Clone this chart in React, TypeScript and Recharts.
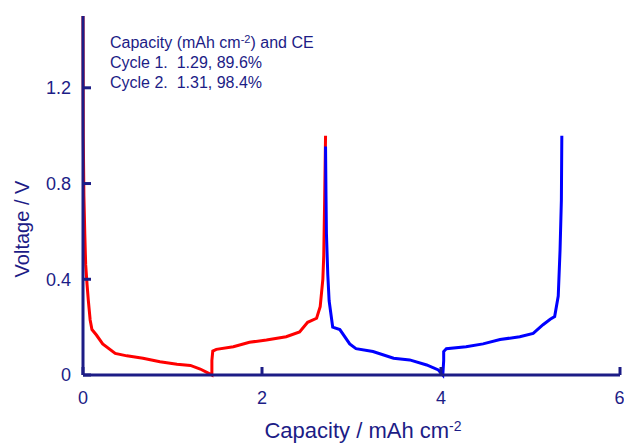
import React from "react";
import { LineChart, Line, XAxis, YAxis } from "recharts";

// cycle 1 (red) - discharge then charge
const cycle1X = [
  0, 0.003, 0.01, 0.02, 0.03, 0.045, 0.06, 0.08, 0.1, 0.15, 0.22, 0.36, 0.49, 0.67, 0.86, 1.05, 1.2,
  1.31, 1.4, 1.44, 1.44, 1.45, 1.49, 1.68, 1.86, 2.05, 2.27, 2.42, 2.51, 2.61, 2.65, 2.68, 2.69,
  2.7, 2.71,
];
const cycle1V = [
  1.5, 1.0, 0.75, 0.59, 0.46, 0.38, 0.31, 0.23, 0.19, 0.167, 0.13, 0.09, 0.08, 0.07, 0.055, 0.045,
  0.04, 0.025, 0.008, 0, 0.06, 0.1, 0.107, 0.118, 0.137, 0.146, 0.16, 0.18, 0.22, 0.237, 0.285, 0.4,
  0.5, 0.73, 1.0,
];

// cycle 2 (blue)
const cycle2X = [
  2.71, 2.715, 2.72, 2.735, 2.75, 2.79, 2.87, 2.98, 3.05, 3.24, 3.47, 3.65, 3.84, 3.97, 4.02, 4.03,
  4.03, 4.06, 4.28, 4.47, 4.66, 4.88, 5.03, 5.14, 5.22, 5.27, 5.31, 5.33, 5.345, 5.35,
];
const cycle2V = [
  0.955, 0.75, 0.59, 0.42, 0.31, 0.2, 0.19, 0.13, 0.11, 0.098, 0.07, 0.063, 0.042, 0.021, 0, 0.06,
  0.098, 0.11, 0.118, 0.13, 0.148, 0.16, 0.174, 0.21, 0.233, 0.244, 0.33, 0.52, 0.73, 1.0,
];

const xTicks = [0, 2, 4, 6];
const yTicks = [0, 0.4, 0.8, 1.2];

const NAVY = "#1c1c86";
const FONT = "'Liberation Sans', Arial, sans-serif";

const toRows = (xs: number[], vs: number[]) => xs.map((x, i) => ({ x, v: vs[i] }));

export default function App() {
  const c1 = toRows(cycle1X, cycle1V);
  const c2 = toRows(cycle2X, cycle2V);

  return (
    <div style={{ position: "absolute", left: 0, top: 0, width: 624, height: 445, background: "#fff", fontFamily: FONT }}>
      <LineChart width={624} height={445} margin={{ top: 16, right: 4, left: 0, bottom: 0 }}>
        <XAxis
          xAxisId="t"
          orientation="top"
          type="number"
          dataKey="x"
          domain={[0, 6]}
          height={0}
          tick={false}
          tickLine={false}
          axisLine={{ stroke: NAVY, strokeWidth: 3 }}
        />
        <YAxis
          yAxisId="r"
          orientation="right"
          domain={[0, 1.5]}
          width={0}
          tick={false}
          tickLine={false}
          axisLine={{ stroke: NAVY, strokeWidth: 3 }}
        />
        <XAxis
          type="number"
          dataKey="x"
          domain={[0, 6]}
          ticks={xTicks}
          height={70}
          tickSize={-8}
          tickMargin={24}
          axisLine={{ stroke: NAVY, strokeWidth: 3 }}
          tickLine={{ stroke: NAVY, strokeWidth: 3 }}
          tick={{ fill: NAVY, fontSize: 18, fontFamily: FONT }}
        />
        <YAxis
          type="number"
          domain={[0, 1.5]}
          ticks={yTicks}
          width={83}
          tickSize={-8}
          tickMargin={20}
          axisLine={{ stroke: NAVY, strokeWidth: 3 }}
          tickLine={{ stroke: NAVY, strokeWidth: 3 }}
          tick={{ fill: NAVY, fontSize: 18, fontFamily: FONT }}
        />
        <Line data={c1} dataKey="v" type="linear" stroke="#ff0000" strokeWidth={3} dot={false} isAnimationActive={false} />
        <Line data={c2} dataKey="v" type="linear" stroke="#0000ff" strokeWidth={3} dot={false} isAnimationActive={false} />
      </LineChart>

      <div style={{ position: "absolute", left: 110, top: 33, color: NAVY, fontSize: 16, lineHeight: "20px", whiteSpace: "nowrap" }}>
        <div>
          Capacity (mAh cm<sup style={{ fontSize: 11, verticalAlign: "5px", lineHeight: 0 }}>-2</sup>) and CE
        </div>
        <div>Cycle 1.&nbsp; 1.29, 89.6%</div>
        <div>Cycle 2.&nbsp; 1.31, 98.4%</div>
      </div>

      <div
        style={{
          position: "absolute",
          left: 22,
          top: 229,
          transform: "translate(-50%, -50%) rotate(-90deg)",
          color: NAVY,
          fontSize: 20,
          whiteSpace: "nowrap",
        }}
      >
        Voltage / V
      </div>

      <div
        style={{
          position: "absolute",
          left: 363,
          top: 431,
          transform: "translate(-50%, -50%)",
          color: NAVY,
          fontSize: 22,
          whiteSpace: "nowrap",
          lineHeight: "24px",
        }}
      >
        Capacity / mAh cm<sup style={{ fontSize: 14, verticalAlign: "7px", lineHeight: 0 }}>-2</sup>
      </div>
    </div>
  );
}
